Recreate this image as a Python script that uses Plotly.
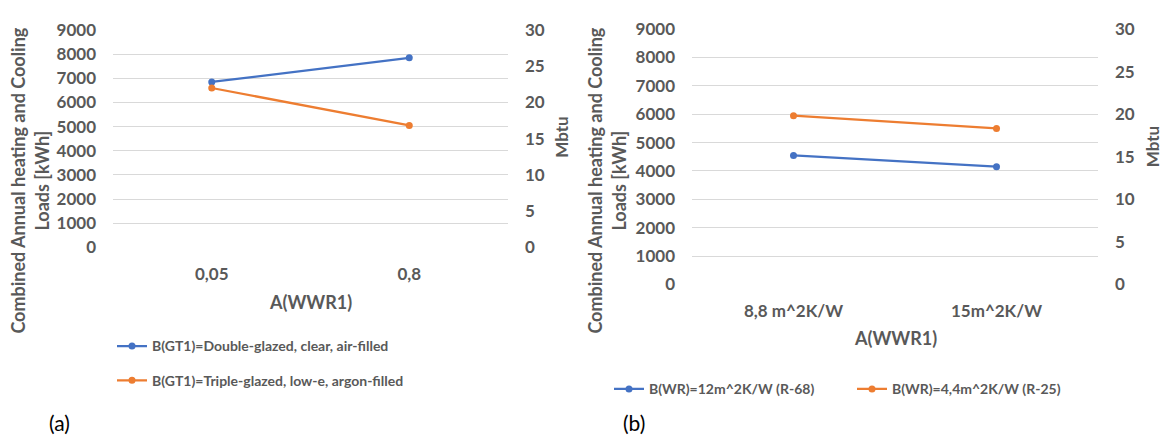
import plotly.graph_objects as go

# ---- data ----
cats_a = ["0,05", "0,8"]
a_double = [6850, 7850]
a_triple = [6600, 5050]
name_a1 = "B(GT1)=Double-glazed, clear, air-filled"
name_a2 = "B(GT1)=Triple-glazed, low-e, argon-filled"

cats_b = ["8,8 m^2K/W", "15m^2K/W"]
b_r68 = [4550, 4150]
b_r25 = [5950, 5500]
name_b1 = "B(WR)=12m^2K/W (R-68)"
name_b2 = "B(WR)=4,4m^2K/W (R-25)"

y_left_range = [0, 9000]
y_right_range = [0, 30]
mbtu_empty = [None, None]

BLUE = "#4472C4"
ORANGE = "#ED7D31"
GRID = "#D9D9D9"
TXT = "#595959"
FONT = "Lato"
W, H = 1162, 446

def px(x):
    return x / W

def py(y):
    return 1 - y / H

fig = go.Figure()

def add(xcats, vals, name, color, xa, ya, leg):
    fig.add_trace(go.Scatter(
        x=xcats, y=vals, name=name, mode="lines+markers",
        line=dict(color=color, width=2.25),
        marker=dict(color=color, size=7),
        xaxis=xa, yaxis=ya, legend=leg))

add(cats_a, a_double, name_a1, BLUE, "x", "y", "legend")
add(cats_a, a_triple, name_a2, ORANGE, "x", "y", "legend2")
add(cats_b, b_r68, name_b1, BLUE, "x2", "y3", "legend3")
add(cats_b, b_r25, name_b2, ORANGE, "x2", "y3", "legend4")

# empty series on the secondary (Mbtu) axes so they are drawn
for xcats, xa, ya in [(cats_a, "x", "y2"), (cats_b, "x2", "y4")]:
    fig.add_trace(go.Scatter(x=xcats, y=mbtu_empty, mode="lines", xaxis=xa, yaxis=ya,
                             showlegend=False, hoverinfo="skip",
                             line=dict(color="rgba(0,0,0,0)")))

tickfont = dict(family=FONT, size=17, color=TXT, weight="bold")
legfont = dict(family=FONT, size=14, color=TXT, weight="bold")

xcommon = dict(type="category", showgrid=False, zeroline=False, showline=False,
               ticks="", tickfont=tickfont, ticklabelstandoff=15, fixedrange=True,
               range=[-0.5, 1.5])
ycommon = dict(showgrid=True, gridcolor=GRID, gridwidth=1.3, zeroline=False,
               showline=False, ticks="", tickfont=tickfont, range=y_left_range,
               dtick=1000, ticklabelstandoff=16)
y2common = dict(showgrid=False, zeroline=False, showline=False, ticks="",
                tickfont=tickfont, range=y_right_range, dtick=5,
                ticklabelstandoff=16, side="right")

leg_common = dict(font=legfont, bgcolor="rgba(0,0,0,0)", itemwidth=30,
                  xanchor="left", yanchor="middle", orientation="v",
                  itemclick=False, itemdoubleclick=False)

fig.update_layout(
    width=W, height=H, margin=dict(l=0, r=0, t=0, b=0),
    paper_bgcolor="white", plot_bgcolor="white", showlegend=True,
    xaxis=dict(domain=[px(113), px(508)], anchor="y", **xcommon),
    yaxis=dict(domain=[py(248), py(20)], anchor="x", **ycommon),
    yaxis2=dict(overlaying="y", anchor="x", **y2common),
    xaxis2=dict(domain=[px(692), px(1098)], anchor="y3", **xcommon),
    yaxis3=dict(domain=[py(287), py(19)], anchor="x2", **ycommon),
    yaxis4=dict(overlaying="y3", anchor="x2", **y2common),
    legend=dict(x=px(112), y=py(352), **leg_common),
    legend2=dict(x=px(112), y=py(388), **leg_common),
    legend3=dict(x=px(609), y=py(397), **leg_common),
    legend4=dict(x=px(852), y=py(397), **leg_common),
)

titlefont = dict(family=FONT, size=18, color=TXT, weight="bold")
mbtufont = dict(family=FONT, size=17, color=TXT, weight="bold")
ann = []
ytitle = "Combined Annual heating and Cooling<br>Loads [kWh]"
for xc, yc in [(30, 178), (607, 178)]:
    ann.append(dict(text=ytitle, x=px(xc), y=py(yc), xref="paper", yref="paper",
                    showarrow=False, textangle=-90, font=titlefont,
                    xanchor="center", yanchor="middle"))
for xc, yc in [(562, 133), (1152, 143)]:
    ann.append(dict(text="Mbtu", x=px(xc), y=py(yc), xref="paper", yref="paper",
                    showarrow=False, textangle=-90, font=mbtufont,
                    xanchor="center", yanchor="middle"))
for xc, yc in [(310, 305), (895, 343)]:
    ann.append(dict(text="A(WWR1)", x=px(xc), y=py(yc), xref="paper", yref="paper",
                    showarrow=False, font=titlefont,
                    xanchor="center", yanchor="middle"))
for t, xc, yc in [("(a)", 59, 432), ("(b)", 634, 432)]:
    ann.append(dict(text=t, x=px(xc), y=py(yc), xref="paper", yref="paper",
                    showarrow=False, font=dict(family=FONT, size=21, color="black"),
                    xanchor="center", yanchor="middle"))
fig.update_layout(annotations=ann)

fig.write_html("out.html")
